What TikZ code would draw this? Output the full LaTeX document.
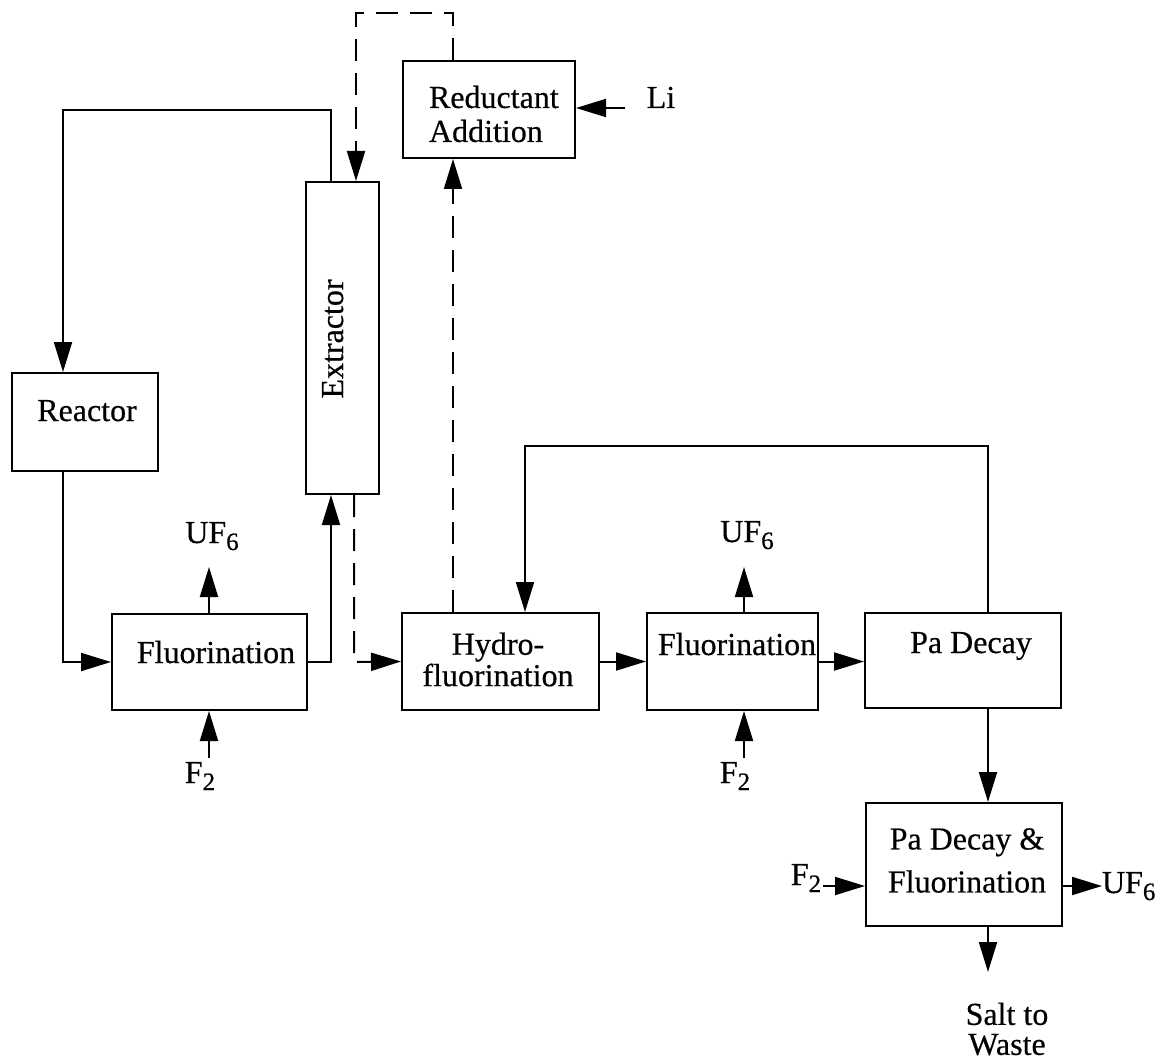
\documentclass[tikz,border=0pt]{standalone}
\usepackage{fontspec}
\setmainfont{Liberation Serif}[FakeBold=0.5]
\usetikzlibrary{arrows.meta}
\newcommand\mysub[1]{\raisebox{-3.5pt}{\fontsize{12.5}{12.5}\selectfont #1}}
\begin{document}
\begin{tikzpicture}[x=0.5pt,y=-0.5pt,line width=1pt,
  box/.style 2 args={draw,line width=1pt,minimum width=#1,minimum height=#2,inner sep=0pt},
  txt/.style={inner sep=0pt,font=\fontsize{16}{17}\selectfont},
  arr/.style={-{Triangle[length=15pt,width=9pt]}},
  dsh/.style={dash pattern=on 11pt off 6pt}]
\useasboundingbox (0,0) rectangle (1167,1059);
% boxes
\node[box={73pt}{49pt}] (reactor) at (85,422) {};
\node[box={97.5pt}{48pt}] (fluor1) at (209.5,662) {};
\node[box={36.5pt}{156pt}] (extr) at (342.5,338) {};
\node[box={86pt}{48.5pt}] (red) at (489,109.5) {};
\node[box={98.5pt}{48.5pt}] (hydro) at (500.5,661.5) {};
\node[box={85.5pt}{48.5pt}] (fluor2) at (732.5,661.5) {};
\node[box={98pt}{47.5pt}] (pad) at (963,660.5) {};
\node[box={98pt}{61.5pt}] (padf) at (964,864.5) {};
% texts
\node[txt,anchor=base] (treactor) at (87,421) {Reactor};
\node[txt,anchor=base] (tfluor1) at (216,663) {Fluorination};
\node[txt,anchor=base,rotate=90] (textr) at (343,339) {Extractor};
\node[txt,anchor=west,align=left] (tred) at (428,114) {Reductant\\Addition};
\node[txt,align=center,font=\fontsize{16}{12.5}\selectfont] (thydro) at (498,659.5) {Hydro-\\fluorination};
\node[txt,anchor=base] (tfluor2) at (737,655) {Fluorination};
\node[txt,anchor=base] (tpad) at (971,653) {Pa Decay};
\node[txt,align=center,font=\fontsize{16}{21.5}\selectfont] (tpadf) at (967,860.5) {Pa Decay \&\\Fluorination};
\node[txt,anchor=base] (uf1) at (212,543) {UF\mysub{6}};
\node[txt,anchor=base] (uf2) at (747,542) {UF\mysub{6}};
\node[txt,anchor=base west] (uf3) at (1101,893) {UF\mysub{6}};
\node[txt,anchor=base] (fa) at (200,783) {F\mysub{2}};
\node[txt,anchor=base] (fb) at (735,783) {F\mysub{2}};
\node[txt,anchor=base] (fc) at (806,885) {F\mysub{2}};
\node[txt,anchor=base] (li) at (661,108) {Li};
\node[txt,align=center,font=\fontsize{16}{15}\selectfont] (waste) at (1007,1029) {Salt to\\Waste};
% bend points and free ends
\coordinate (k1) at (331,110);
\coordinate (k2) at (63,110);
\coordinate (k3) at (354,662);
\coordinate (k4) at (453,13);
\coordinate (k5) at (356,13);
\coordinate (k6) at (988,446);
\coordinate (k7) at (525,446);
\coordinate (e1) at (209,567);
\coordinate (e2) at (209,758);
\coordinate (e3) at (744,567);
\coordinate (e4) at (744,758);
\coordinate (e5) at (625,108);
\coordinate (e6) at (823,886);
\coordinate (e7) at (1102,886);
\coordinate (e8) at (988,972);
% connectors
\draw[arr] (extr.north -| k1) -- (k1) -- (k2) -- (reactor.north -| k2);
\draw[arr] (reactor.south -| k2) |- (fluor1.west);
\draw[arr] (fluor1.east) -| (extr.south -| k1);
\draw[arr,dsh] (extr.south -| k3) -- (k3) -- (hydro.west);
\draw[arr,dsh] (red.north -| k4) -- (k4) -- (k5) -- (extr.north -| k5);
\draw[arr,dsh] (hydro.north -| k4) -- (red.south -| k4);
\draw[arr] (e5) -- (red.east |- e5);
\draw[arr] (fluor1.north -| e1) -- (e1);
\draw[arr] (e2) -- (fluor1.south -| e2);
\draw[arr] (hydro.east) -- (fluor2.west);
\draw[arr] (fluor2.north -| e3) -- (e3);
\draw[arr] (e4) -- (fluor2.south -| e4);
\draw[arr] (fluor2.east) -- (pad.west |- fluor2.east);
\draw[arr] (pad.north -| k6) -- (k6) -- (k7) -- (hydro.north -| k7);
\draw[arr] (pad.south -| k6) -- (padf.north -| k6);
\draw[arr] (e6) -- (padf.west |- e6);
\draw[arr] (padf.east |- e7) -- (e7);
\draw[arr] (padf.south -| e8) -- (e8);
\end{tikzpicture}
\end{document}
